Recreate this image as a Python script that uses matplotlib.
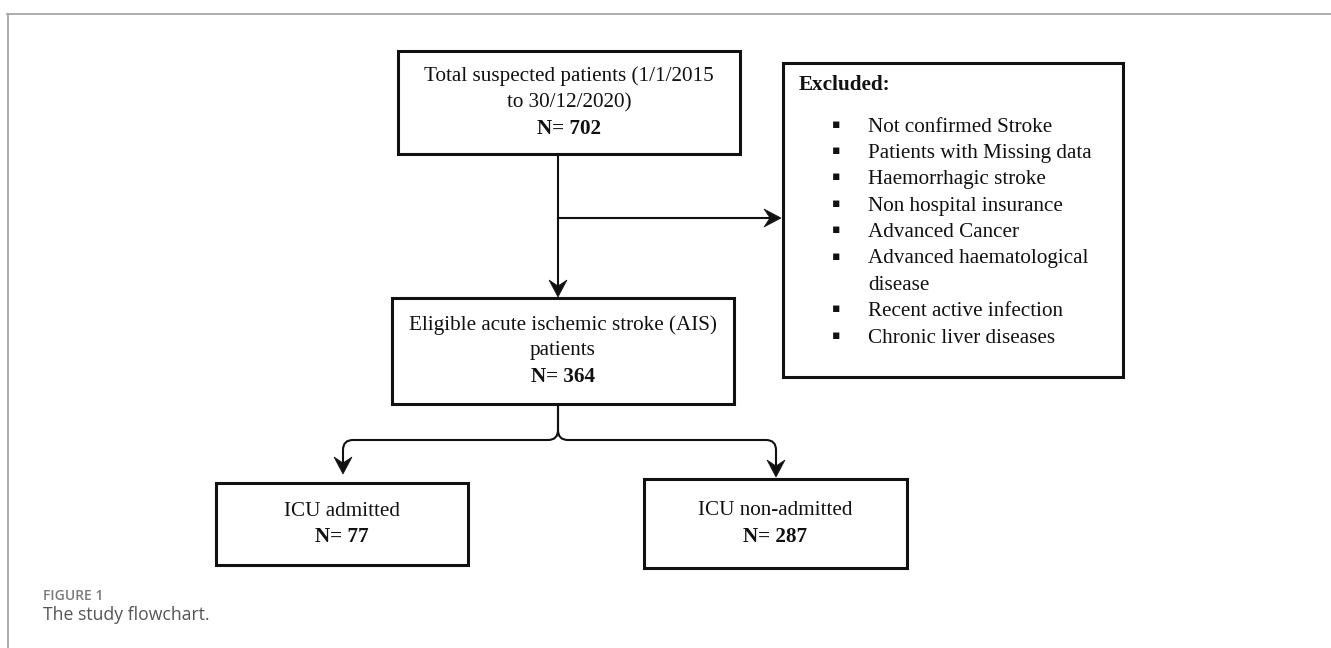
import numpy as np
import matplotlib
matplotlib.use('Agg')
import matplotlib.pyplot as plt
from matplotlib.patches import Rectangle, Polygon, PathPatch
from matplotlib.path import Path

# flowchart content
total_label = ["Total suspected patients (1/1/2015", "to 30/12/2020)"]
total_n = 702
eligible_label = ["Eligible acute ischemic stroke (AIS)", "patients"]
eligible_n = 364
icu_label = ["ICU admitted"]
icu_n = 77
non_icu_label = ["ICU non-admitted"]
non_icu_n = 287
excluded_title = "Excluded:"
excluded_reasons = ["Not confirmed Stroke", "Patients with Missing data",
                    "Haemorrhagic stroke", "Non hospital insurance",
                    "Advanced Cancer", "Advanced haematological\ndisease",
                    "Recent active infection", "Chronic liver diseases"]
caption_label = "FIGURE 1"
caption_text = "The study flowchart."

W, H = 1331, 648
SERIF = ['Liberation Serif', 'DejaVu Serif']
FS = 15.2          # ~21 px
LINE = 26          # px between text lines
BOX_LW = 2.2
ARR_LW = 1.5

fig = plt.figure(figsize=(W / 100, H / 100), dpi=100)
ax = fig.add_axes([0, 0, 1, 1])
ax.set_xlim(0, W)
ax.set_ylim(H, 0)
ax.axis('off')


def box(x0, y0, x1, y1, lines, n):
    ax.add_patch(Rectangle((x0, y0), x1 - x0, y1 - y0, fill=False,
                           edgecolor='#111111', lw=BOX_LW, zorder=2))
    cx = (x0 + x1) / 2
    cy = (y0 + y1) / 2
    allines = lines + ["N= %d" % n]
    k = len(allines)
    for i, s in enumerate(allines):
        y = cy + (i - (k - 1) / 2) * LINE
        ax.text(cx, y, s, ha='center', va='center', fontsize=FS, family=SERIF,
                fontweight='bold' if i == k - 1 else 'normal', color='#111111')


def arrowhead(tip, d, L=17, Wd=9, notch=6):
    tip = np.array(tip, float)
    d = np.array(d, float)
    d = d / np.linalg.norm(d)
    nrm = np.array([-d[1], d[0]])
    pts = [tip, tip - L * d + Wd * nrm, tip - (L - notch) * d, tip - L * d - Wd * nrm]
    ax.add_patch(Polygon(pts, closed=True, facecolor='#111111', edgecolor='#111111',
                         lw=0.5, zorder=3))


# boxes
box(398, 51, 740, 154, total_label, total_n)
box(392, 298, 734, 404, eligible_label, eligible_n)
box(216, 483, 468, 565, icu_label, icu_n)
box(644, 479, 907, 568, non_icu_label, non_icu_n)

# excluded box
ax.add_patch(Rectangle((783, 63), 1123 - 783, 377 - 63, fill=False,
                       edgecolor='#111111', lw=BOX_LW, zorder=2))
ax.text(799, 85, excluded_title, ha='left', va='center', fontsize=FS, family=SERIF,
        fontweight='bold', color='#111111')
y = 127
for reason in excluded_reasons:
    parts = reason.split('\n')
    ax.text(836, y - 3, "\u25aa", ha='center', va='center', fontsize=9,
            family=['DejaVu Sans'], color='#111111')
    for p in parts:
        ax.text(868, y, p, ha='left', va='center', fontsize=FS, family=SERIF,
                color='#111111')
        y += LINE + 0.4

# main vertical arrow and exclusion arrow
ax.plot([558, 558], [154, 290], color='#111111', lw=ARR_LW, zorder=1)
arrowhead((558, 297), (0, 1))
ax.plot([558, 772], [218, 218], color='#111111', lw=ARR_LW, zorder=1)
arrowhead((781, 218), (1, 0))

# branch to ICU boxes
r = 10
for tx, ty in [(343, 474), (776, 477)]:
    s = -1 if tx < 558 else 1
    verts = [(558, 404), (558, 430), (558, 440), (558 + s * r, 440),
             (tx - s * r, 440), (tx, 440), (tx, 440 + r), (tx, ty - 8)]
    codes = [Path.MOVETO, Path.LINETO, Path.CURVE3, Path.CURVE3,
             Path.LINETO, Path.CURVE3, Path.CURVE3, Path.LINETO]
    ax.add_patch(PathPatch(Path(verts, codes), fill=False, edgecolor='#111111',
                           lw=ARR_LW, zorder=1))
    arrowhead((tx, ty), (0, 1))

# page frame
ax.plot([7, W], [14, 14], color='#a0a0a0', lw=1.2, zorder=0)
ax.plot([8, 8], [14, H], color='#a0a0a0', lw=1.2, zorder=0)

# caption
ax.text(43, 596, caption_label, ha='left', va='center', fontsize=10,
        family=['Open Sans', 'DejaVu Sans'], fontweight='semibold', color='#7a7a7a')
ax.text(43, 615, caption_text, ha='left', va='center', fontsize=12.7,
        family=['Open Sans', 'DejaVu Sans'], color='#555555')

fig.savefig('out.png', dpi=100)
